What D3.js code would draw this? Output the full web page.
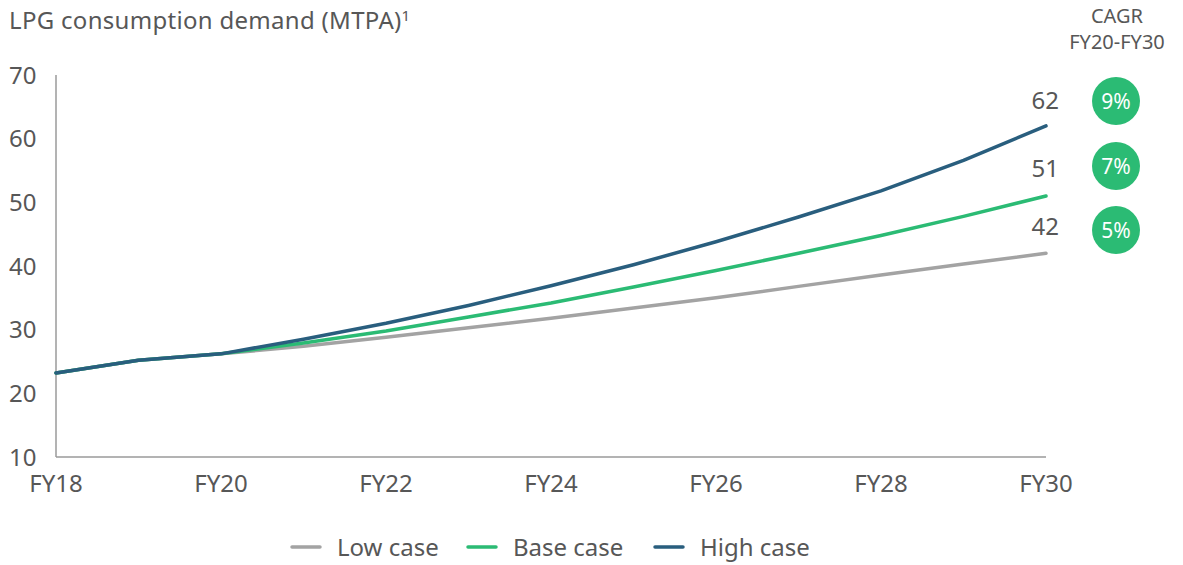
<!DOCTYPE html>
<html>
<head>
<meta charset="utf-8">
<script src="https://cdn.jsdelivr.net/npm/d3@7/dist/d3.min.js"></script>
<style>
  html, body { margin: 0; padding: 0; background: #fff; }
  svg { display: block; font-family: "Noto Sans", "Open Sans", sans-serif; }
</style>
</head>
<body>
<svg id="chart" width="1183" height="565"></svg>
<script>
// Fiscal years (FY18..FY30) and demand in MTPA per scenario
const years = [18, 19, 20, 21, 22, 23, 24, 25, 26, 27, 28, 29, 30];
const lowCase  = [23.2, 25.2, 26.2, 27.4, 28.8, 30.3, 31.8, 33.4, 35.0, 36.8, 38.6, 40.3, 42];
const baseCase = [23.2, 25.2, 26.2, 27.9, 29.8, 32.0, 34.2, 36.7, 39.3, 42.0, 44.8, 47.8, 51];
const highCase = [23.2, 25.2, 26.2, 28.5, 31.0, 33.8, 36.9, 40.2, 43.8, 47.7, 51.8, 56.6, 62];
const xTickYears = [18, 20, 22, 24, 26, 28, 30];
const yTicks = [10, 20, 30, 40, 50, 60, 70];
const seriesNames = ["Low case", "Base case", "High case"];
const cagrLabels = ["5%", "7%", "9%"];

const colors = { "Low case": "#a3a3a3", "Base case": "#2bbb74", "High case": "#295e7e" };
const textColor = "#575757";

const series = [
  { name: "Low case", values: lowCase, cagr: cagrLabels[0] },
  { name: "Base case", values: baseCase, cagr: cagrLabels[1] },
  { name: "High case", values: highCase, cagr: cagrLabels[2] }
];

const svg = d3.select("#chart");

const x = d3.scaleLinear().domain([18, 30]).range([56, 1046]);
const y = d3.scaleLinear().domain([10, 70]).range([457, 75]);

// Title with footnote marker
const title = svg.append("text")
  .attr("x", 9).attr("y", 29)
  .attr("fill", textColor).style("font-size", "24px")
  .style("letter-spacing", "0.3px");
title.append("tspan").text("LPG consumption demand (MTPA)");
title.append("tspan").text("1").attr("dy", -8).style("font-size", "15px");

// Axes lines
svg.append("line")
  .attr("x1", x(18)).attr("x2", x(18))
  .attr("y1", y(70)).attr("y2", y(10))
  .attr("stroke", "#9a9a9a").attr("stroke-width", 1.5);
svg.append("line")
  .attr("x1", x(18)).attr("x2", x(30))
  .attr("y1", y(10)).attr("y2", y(10))
  .attr("stroke", "#9a9a9a").attr("stroke-width", 1.5);

// Y tick labels
svg.append("g").selectAll("text").data(yTicks).join("text")
  .attr("x", 9).attr("y", d => y(d))
  .attr("dy", "0.36em")
  .attr("fill", textColor).style("font-size", "24px")
  .text(d => d);

// X tick labels
svg.append("g").selectAll("text").data(xTickYears).join("text")
  .attr("x", d => x(d)).attr("y", 492)
  .attr("text-anchor", "middle")
  .attr("fill", textColor).style("font-size", "24px")
  .text(d => "FY" + d);

// Scenario lines
const line = d3.line()
  .x((d, i) => x(years[i]))
  .y(d => y(d));

svg.append("g").selectAll("path").data(series).join("path")
  .attr("d", d => line(d.values))
  .attr("fill", "none")
  .attr("stroke", d => colors[d.name])
  .attr("stroke-width", 3.5)
  .attr("stroke-linejoin", "round")
  .attr("stroke-linecap", "round");

// End-of-line value labels
const labelOffsets = { "Low case": -27, "Base case": -28, "High case": -26 };
svg.append("g").selectAll("text").data(series).join("text")
  .attr("x", x(30) + 13)
  .attr("y", d => y(d.values[d.values.length - 1]) + labelOffsets[d.name])
  .attr("dy", "0.36em")
  .attr("text-anchor", "end")
  .attr("fill", textColor).style("font-size", "24px")
  .text(d => d3.format("d")(d.values[d.values.length - 1]));

// CAGR header
svg.append("text")
  .attr("x", 1117).attr("y", 23)
  .attr("text-anchor", "middle")
  .attr("fill", textColor).style("font-size", "20px")
  .text("CAGR");
svg.append("text")
  .attr("x", 1117).attr("y", 49)
  .attr("text-anchor", "middle")
  .attr("fill", textColor).style("font-size", "20px")
  .text("FY20-FY30");

// CAGR badges, top to bottom: high, base, low
const badgeY = { "High case": 101, "Base case": 166, "Low case": 230 };
const badges = svg.append("g").selectAll("g").data(series).join("g")
  .attr("transform", d => `translate(1116,${badgeY[d.name]})`);
badges.append("circle").attr("r", 24).attr("fill", "#2bbb74");
badges.append("text")
  .attr("text-anchor", "middle").attr("dy", "0.36em")
  .attr("fill", "#fff").style("font-size", "21px")
  .text(d => d.cagr);

// Legend
const legendX = { "Low case": 292, "Base case": 468, "High case": 655 };
const legend = svg.append("g").selectAll("g").data(seriesNames).join("g")
  .attr("transform", d => `translate(${legendX[d]},547)`);
legend.append("line")
  .attr("x1", 0).attr("x2", 28)
  .attr("stroke", d => colors[d]).attr("stroke-width", 3.5)
  .attr("stroke-linecap", "round");
legend.append("text")
  .attr("x", 45).attr("dy", "0.36em")
  .attr("fill", textColor).style("font-size", "24px")
  .text(d => d);
</script>
</body>
</html>
